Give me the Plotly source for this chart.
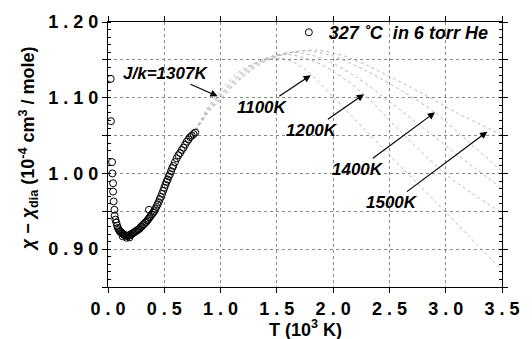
import plotly.graph_objects as go

# Measured susceptibility (T in 10^3 K, chi - chi_dia in 10^-4 cm^3/mole)
T_data = [0.024, 0.026, 0.036, 0.039, 0.045, 0.045, 0.050, 0.057, 0.059, 0.066,
          0.074, 0.081, 0.088, 0.095, 0.102, 0.110, 0.118, 0.126, 0.134, 0.142,
          0.150, 0.158, 0.166, 0.175, 0.184, 0.193, 0.202, 0.211, 0.220, 0.230,
          0.240, 0.250, 0.260, 0.270, 0.280, 0.290, 0.300, 0.310, 0.320, 0.330,
          0.340, 0.350, 0.364, 0.360, 0.370, 0.380, 0.390, 0.400, 0.410, 0.420,
          0.430, 0.440, 0.450, 0.460, 0.470, 0.480, 0.490, 0.500, 0.510, 0.520,
          0.530, 0.540, 0.550, 0.560, 0.570, 0.580, 0.595, 0.610, 0.625, 0.640,
          0.655, 0.670, 0.685, 0.700, 0.715, 0.730, 0.745, 0.760, 0.775,
          0.130, 0.165, 0.190]
chi_data = [1.125, 1.069, 1.015, 1.000, 0.987, 0.976, 0.963, 0.952, 0.944, 0.939,
            0.935, 0.931, 0.928, 0.926, 0.924, 0.923, 0.922, 0.921, 0.920, 0.919,
            0.9185, 0.918, 0.9175, 0.9175, 0.918, 0.9185, 0.919, 0.920, 0.921, 0.922,
            0.923, 0.924, 0.925, 0.926, 0.927, 0.929, 0.930, 0.932, 0.933, 0.935,
            0.936, 0.938, 0.952, 0.940, 0.942, 0.944, 0.946, 0.948, 0.950, 0.953,
            0.956, 0.959, 0.962, 0.966, 0.969, 0.973, 0.977, 0.981, 0.985, 0.989,
            0.992, 0.996, 0.999, 1.003, 1.007, 1.010, 1.015, 1.020, 1.024, 1.027,
            1.031, 1.034, 1.038, 1.042, 1.045, 1.048, 1.050, 1.052, 1.054,
            0.917, 0.915, 0.9155]

# Model curves
T_1100 = [0.75, 0.90, 1.00, 1.20, 1.40, 1.55, 1.70, 1.80, 2.00, 2.30, 2.60, 2.90, 3.20, 3.50]
c_1100 = [1.050, 1.090, 1.110, 1.138, 1.150, 1.152, 1.143, 1.131, 1.101, 1.055, 1.009, 0.964, 0.918, 0.872]

T_1200 = [0.75, 0.90, 1.00, 1.20, 1.40, 1.60, 1.80, 2.00, 2.27, 2.60, 3.00, 3.25, 3.50]
c_1200 = [1.050, 1.088, 1.105, 1.135, 1.152, 1.157, 1.150, 1.135, 1.105, 1.055, 0.999, 0.972, 0.948]

T_1307 = [0.75, 0.90, 1.00, 1.20, 1.40, 1.65, 1.90, 2.20, 2.50, 2.80, 3.10, 3.50]
c_1307 = [1.050, 1.085, 1.103, 1.133, 1.152, 1.160, 1.152, 1.128, 1.095, 1.060, 1.025, 0.980]

T_1400 = [0.75, 0.90, 1.00, 1.20, 1.40, 1.75, 2.00, 2.30, 2.60, 2.90, 3.20, 3.50]
c_1400 = [1.050, 1.083, 1.100, 1.130, 1.150, 1.162, 1.155, 1.135, 1.110, 1.081, 1.042, 1.003]

T_1500 = [0.75, 0.90, 1.00, 1.20, 1.40, 1.60, 1.85, 2.10, 2.30, 2.54, 2.80, 3.10, 3.50]
c_1500 = [1.050, 1.082, 1.098, 1.128, 1.148, 1.159, 1.163, 1.155, 1.143, 1.125, 1.105, 1.080, 1.051]

x_ticks = [0.0, 0.5, 1.0, 1.5, 2.0, 2.5, 3.0, 3.5]
x_labels = ["0 . 0", "0 . 5", "1 . 0", "1 . 5", "2 . 0", "2 . 5", "3 . 0", "3 . 5"]
y_ticks = [0.85, 0.90, 0.95, 1.00, 1.05, 1.10, 1.15, 1.20]
y_labels = [" ", "0 . 9 0", " ", "1 . 0 0", " ", "1 . 1 0", " ", "1 . 2 0"]

# Arrow annotations: label, tip T, tip chi, text offset (px)
labels = ["J/k=1307K", "1100K", "1200K", "1400K", "1500K"]
tip_T = [0.974, 1.801, 2.274, 2.905, 3.369]
tip_c = [1.102, 1.1296, 1.1046, 1.0808, 1.0552]
off_x = [-52, -48, -52, -77, -95]
off_y = [-23, 32, 36, 57, 71]

FONT = "Liberation Sans, Arial, sans-serif"

fig = go.Figure()
curve_style = dict(color="#b8b8b8", width=1, dash="dot", shape="spline", smoothing=0.8)
for T, c in [(T_1100, c_1100), (T_1200, c_1200), (T_1307, c_1307), (T_1400, c_1400), (T_1500, c_1500)]:
    fig.add_trace(go.Scatter(x=T, y=c, mode="lines", line=curve_style, showlegend=False,
                             hoverinfo="skip"))

fig.add_trace(go.Scatter(
    x=T_data, y=chi_data, mode="markers",
    marker=dict(symbol="circle-open", size=7, color="black", line=dict(width=1, color="black")),
    name="<b><i>327\u00a0˚C\u00a0\u00a0in 6 torr He</i></b>", showlegend=True))

for lab, tx, ty, ox, oy in zip(labels, tip_T, tip_c, off_x, off_y):
    fig.add_annotation(x=tx, y=ty, ax=ox, ay=oy, axref="pixel", ayref="pixel",
                       text="<b><i>" + lab + "</i></b>", showarrow=True,
                       arrowhead=2, arrowsize=1.2, arrowwidth=1.2, arrowcolor="black",
                       font=dict(family=FONT, size=17, color="black"))

# axis titles
fig.add_annotation(xref="paper", yref="paper", x=-0.203, y=0.52,
                   text="<b><i>χ</i> − <i>χ</i><sub>dia</sub> (10<sup>-4</sup> cm<sup>3</sup> / mole)</b>",
                   textangle=-90, showarrow=False, xanchor="center", yanchor="middle",
                   font=dict(family=FONT, size=18, color="black"))
fig.add_annotation(xref="paper", yref="paper", x=0.5, y=-0.155,
                   text="<b>T (10<sup>3</sup> K)</b>", showarrow=False,
                   xanchor="center", yanchor="middle",
                   font=dict(family=FONT, size=18, color="black"))

axis_common = dict(showline=True, linecolor="black", linewidth=1.2, mirror="ticks",
                   ticks="outside", ticklen=5, tickcolor="black", tickwidth=1,
                   showgrid=True, gridcolor="#8a8a8a", gridwidth=1, griddash="dot",
                   zeroline=False,
                   tickfont=dict(family=FONT, size=18, color="black", weight="bold"))

fig.update_xaxes(range=[0, 3.5], tickmode="array", tickvals=x_ticks, ticktext=x_labels,
                 **axis_common)
fig.update_yaxes(range=[0.85, 1.20], tickmode="array", tickvals=y_ticks, ticktext=y_labels,
                 minor=dict(ticks="inside", ticklen=3, tickcolor="black", dtick=0.01,
                            tick0=0.85, showgrid=False),
                 **axis_common)

fig.update_layout(
    width=532, height=339,
    margin=dict(l=108, r=21, t=17, b=52),
    paper_bgcolor="white", plot_bgcolor="white",
    font=dict(family=FONT, color="black"),
    legend=dict(x=0.459, y=1.03, xanchor="left", yanchor="top", bgcolor="rgba(0,0,0,0)",
                font=dict(family=FONT, size=18, color="black")),
)

fig.write_html("out.html")
